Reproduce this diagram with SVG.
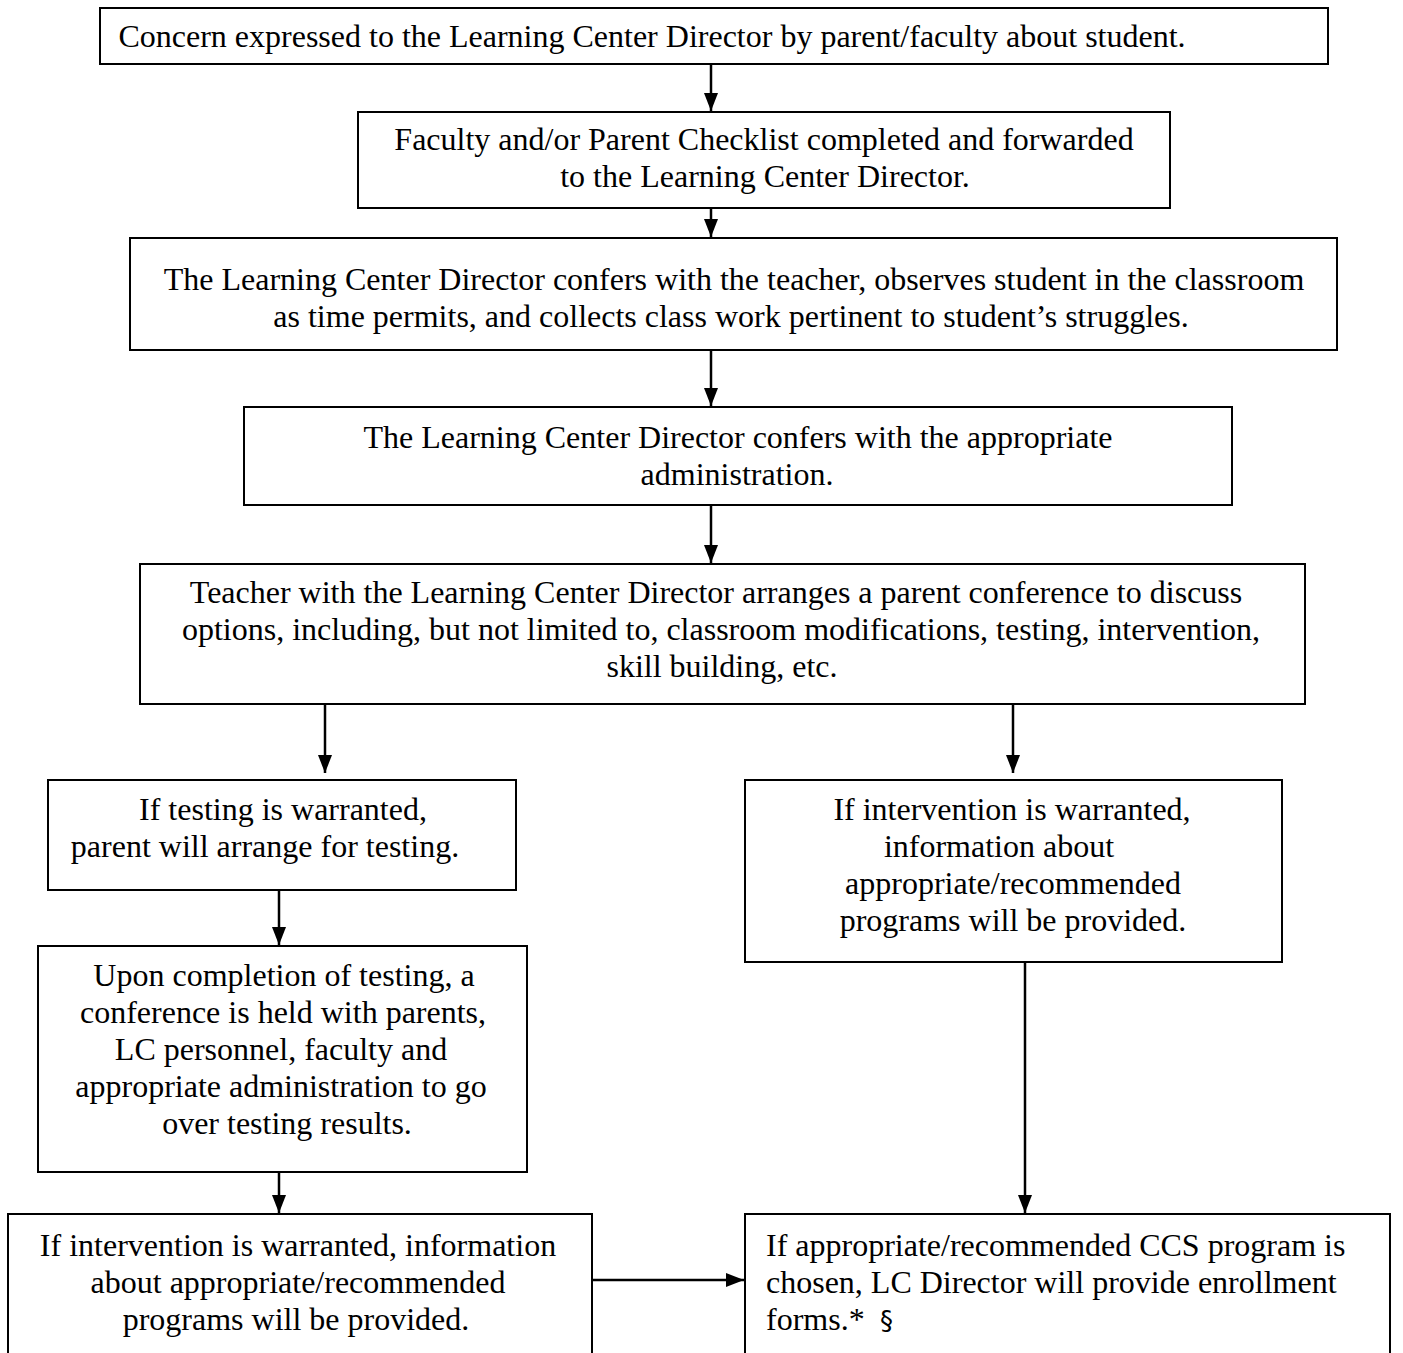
<svg xmlns="http://www.w3.org/2000/svg" width="1403" height="1353" viewBox="0 0 1403 1353">
<style>
.box{fill:#fff;stroke:#000;stroke-width:2}
.t{font-family:"Liberation Serif","Times New Roman",serif;font-size:32px;fill:#000;text-anchor:middle}
.tl{font-family:"Liberation Serif","Times New Roman",serif;font-size:32px;fill:#000}
.c{stroke:#000;stroke-width:2.5;fill:none;marker-end:url(#ah)}
</style>
<defs>
<marker id="ah" markerWidth="18" markerHeight="14" refX="18" refY="7" orient="auto" markerUnits="userSpaceOnUse" viewBox="0 0 18 14">
<path d="M0,0 L18,7 L0,14 Z" fill="#000"/>
</marker>
</defs>
<rect width="1403" height="1353" fill="#fff"/>
<g id="connectors">
<line class="c" x1="711" y1="64" x2="711" y2="111"/>
<line class="c" x1="711" y1="208" x2="711" y2="237"/>
<line class="c" x1="711" y1="350" x2="711" y2="406"/>
<line class="c" x1="711" y1="505" x2="711" y2="563"/>
<line class="c" x1="325" y1="704" x2="325" y2="773"/>
<line class="c" x1="1013" y1="704" x2="1013" y2="773"/>
<line class="c" x1="279" y1="890" x2="279" y2="945"/>
<line class="c" x1="279" y1="1172" x2="279" y2="1213"/>
<line class="c" x1="1025" y1="962" x2="1025" y2="1213"/>
<line class="c" x1="592" y1="1280" x2="744" y2="1280"/>
</g>
<g id="n1"><rect class="box" x="100" y="8" width="1228" height="56"/><text class="t" x="652" y="47">Concern expressed to the Learning Center Director by parent/faculty about student.</text></g>
<g id="n2"><rect class="box" x="358" y="112" width="812" height="96"/><text class="t" x="764" y="150">Faculty and/or Parent Checklist completed and forwarded</text><text class="t" x="765" y="187">to the Learning Center Director.</text></g>
<g id="n3"><rect class="box" x="130" y="238" width="1207" height="112"/><text class="t" x="734" y="290">The Learning Center Director confers with the teacher, observes student in the classroom</text><text class="t" x="731" y="327">as time permits, and collects class work pertinent to student’s struggles.</text></g>
<g id="n4"><rect class="box" x="244" y="407" width="988" height="98"/><text class="t" x="738" y="448">The Learning Center Director confers with the appropriate</text><text class="t" x="737" y="485">administration.</text></g>
<g id="n5"><rect class="box" x="140" y="564" width="1165" height="140"/><text class="t" x="716" y="603">Teacher with the Learning Center Director arranges a parent conference to discuss</text><text class="t" x="721" y="640">options, including, but not limited to, classroom modifications, testing, intervention,</text><text class="t" x="722" y="677">skill building, etc.</text></g>
<g id="n6"><rect class="box" x="48" y="780" width="468" height="110"/><text class="t" x="283" y="820">If testing is warranted,</text><text class="t" x="265" y="857">parent will arrange for testing.</text></g>
<g id="n7"><rect class="box" x="745" y="780" width="537" height="182"/><text class="t" x="1012" y="820">If intervention is warranted,</text><text class="t" x="999" y="857">information about</text><text class="t" x="1013" y="894">appropriate/recommended</text><text class="t" x="1013" y="931">programs will be provided.</text></g>
<g id="n8"><rect class="box" x="38" y="946" width="489" height="226"/><text class="t" x="284" y="986">Upon completion of testing, a</text><text class="t" x="283" y="1023">conference is held with parents,</text><text class="t" x="281" y="1060">LC personnel, faculty and</text><text class="t" x="281" y="1097">appropriate administration to go</text><text class="t" x="287" y="1134">over testing results.</text></g>
<g id="n9"><rect class="box" x="8" y="1214" width="584" height="150"/><text class="t" x="298" y="1256">If intervention is warranted, information</text><text class="t" x="298" y="1293">about appropriate/recommended</text><text class="t" x="296" y="1330">programs will be provided.</text></g>
<g id="n10"><rect class="box" x="745" y="1214" width="645" height="150"/><text class="tl" x="766" y="1256">If appropriate/recommended CCS program is</text><text class="tl" x="766" y="1293">chosen, LC Director will provide enrollment</text><text class="tl" x="766" y="1330">forms.*<tspan x="880" font-family="DejaVu Sans, sans-serif" font-size="26">§</tspan></text></g>
</svg>
